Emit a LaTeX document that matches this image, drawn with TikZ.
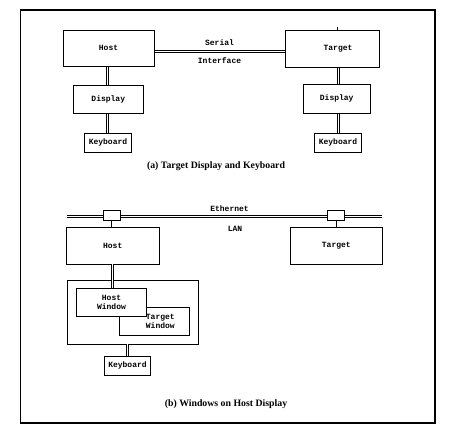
\documentclass[tikz,border=0pt]{standalone}
\usepackage{fontspec}
\setmainfont{Liberation Serif}
\setmonofont{Liberation Mono}
\begin{document}
\begin{tikzpicture}[x=1pt,y=-1pt,
  box/.style={draw,line width=0.9pt,fill=white,inner sep=0pt,font=\fontsize{8}{9}\selectfont\ttfamily\bfseries,align=center},
  dbl/.style={draw,line width=1pt,double,double distance=1pt},
  sgl/.style={draw,line width=0.9pt},
  lbl/.style={font=\fontsize{8}{9}\selectfont\ttfamily\bfseries,inner sep=0pt},
  captxt/.style={font=\fontsize{9.8}{11}\selectfont\bfseries,inner sep=0pt}]
\useasboundingbox (0,0) rectangle (454,442);
\draw[line width=1.1pt] (20.5,10) rectangle (435,423);
% ---------- part (a)
\coordinate (sA) at (154,51.5);
\coordinate (sB) at (285,51.5);
\coordinate (hv1) at (107.3,66);
\coordinate (hv2) at (107.3,85);
\coordinate (hv3) at (107.3,113.3);
\coordinate (hv4) at (107.3,133.3);
\coordinate (tv1) at (338.3,67);
\coordinate (tv2) at (338.3,84.3);
\coordinate (tv3) at (338.3,113.3);
\coordinate (tv4) at (338.3,133.3);
\coordinate (tk1) at (337,30);
\coordinate (tk2) at (337,27);
\draw[dbl] (sA) -- (sB)
  node[lbl,midway,above=5pt] {Serial} node[lbl,midway,below=6pt] {Interface};
\draw[dbl] (hv1) -- (hv2);
\draw[dbl] (hv3) -- (hv4);
\draw[dbl] (tv1) -- (tv2);
\draw[dbl] (tv3) -- (tv4);
\draw[line width=0.9pt] (tk1) -- (tk2);
\node[box,minimum width=91,minimum height=36] (host) at (108.5,48) {Host};
\node[box,minimum width=94,minimum height=37] (target) at (332,48.5) {\hspace*{12pt}Target};
\node[box,minimum width=70,minimum height=28.3] (hdisp) at (108.3,99.2) {Display};
\node[box,minimum width=66.7,minimum height=29] (tdisp) at (336.7,98.8) {Display};
\node[box,minimum width=47.4,minimum height=19] (hkb) at (108,142.8) {Keyboard};
\node[box,minimum width=47.4,minimum height=19] (tkb) at (338,142.8) {Keyboard};
\node[captxt] (capa) at (216,166) {(a) Target Display and Keyboard};
% ---------- part (b)
\coordinate (ethL) at (66.7,216.8);
\coordinate (ethR) at (381.7,216.8);
\draw[dbl] (ethL) -- (ethR);
\coordinate (h2a) at (111.7,220);
\coordinate (h2b) at (111.7,227.3);
\coordinate (t2a) at (336.7,220);
\coordinate (t2b) at (336.7,227.3);
\draw[sgl] (h2a) -- (h2b);
\draw[sgl] (t2a) -- (t2b);
\node[box,minimum width=17.4,minimum height=10] (htap) at (112,215) {};
\node[box,minimum width=17.4,minimum height=10] (ttap) at (336,215) {};
\node[lbl] (eth) at (229.5,209) {Ethernet};
\node[lbl] (lan) at (235,228.5) {LAN};
\node[box,minimum width=93.3,minimum height=37] (host2) at (112.7,245.8) {Host};
\node[box,minimum width=92,minimum height=37] (target2) at (336.3,245.8) {Target};
\node[box,minimum width=131,minimum height=64.3] (hdisp2) at (132.8,312.2) {};
\node[box,minimum width=70,minimum height=28.4] (twin) at (154.3,321.5) {\hspace*{12pt}Target\\\hspace*{12pt}Window};
\node[box,minimum width=70.4,minimum height=28] (hwin) at (111.5,302.3) {Host\\Window};
\coordinate (w1) at (112,264.3);
\coordinate (w2) at (112,288.3);
\draw[dbl] (w1) -- (w2);
\coordinate (k1) at (127.3,344.3);
\coordinate (k2) at (127.3,356.3);
\draw[dbl] (k1) -- (k2);
\node[box,minimum width=46.4,minimum height=19] (hkb2) at (127.5,365.8) {Keyboard};
\node[captxt] (capb) at (226,404) {(b) Windows on Host Display};
\end{tikzpicture}
\end{document}
